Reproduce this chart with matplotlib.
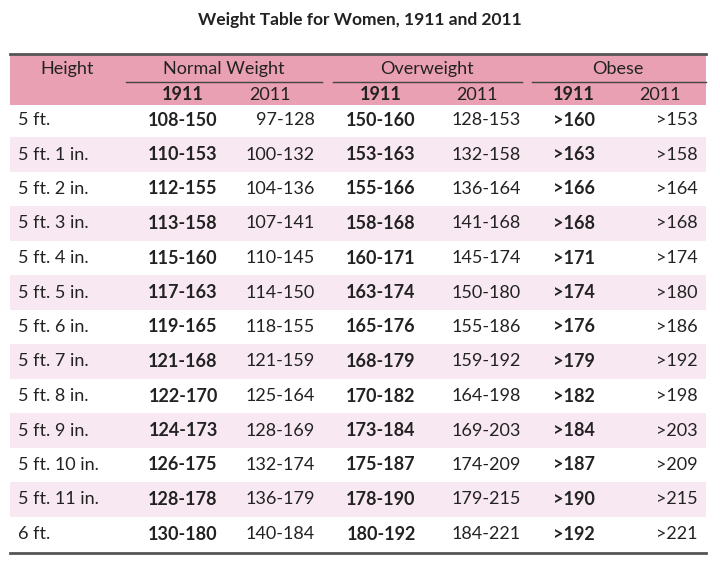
import matplotlib.pyplot as plt
from matplotlib.patches import Rectangle

heights = ['5 ft.', '5 ft. 1 in.', '5 ft. 2 in.', '5 ft. 3 in.', '5 ft. 4 in.', '5 ft. 5 in.',
           '5 ft. 6 in.', '5 ft. 7 in.', '5 ft. 8 in.', '5 ft. 9 in.', '5 ft. 10 in.',
           '5 ft. 11 in.', '6 ft.']
normal_1911 = ['108-150', '110-153', '112-155', '113-158', '115-160', '117-163', '119-165',
               '121-168', '122-170', '124-173', '126-175', '128-178', '130-180']
normal_2011 = ['97-128', '100-132', '104-136', '107-141', '110-145', '114-150', '118-155',
               '121-159', '125-164', '128-169', '132-174', '136-179', '140-184']
over_1911 = ['150-160', '153-163', '155-166', '158-168', '160-171', '163-174', '165-176',
             '168-179', '170-182', '173-184', '175-187', '178-190', '180-192']
over_2011 = ['128-153', '132-158', '136-164', '141-168', '145-174', '150-180', '155-186',
             '159-192', '164-198', '169-203', '174-209', '179-215', '184-221']
obese_1911 = ['>160', '>163', '>166', '>168', '>171', '>174', '>176', '>179', '>182',
              '>184', '>187', '>190', '>192']
obese_2011 = ['>153', '>158', '>164', '>168', '>174', '>180', '>186', '>192', '>198',
              '>203', '>209', '>215', '>221']
groups = ['Normal Weight', 'Overweight', 'Obese']

plt.rcParams['font.family'] = ['Lato', 'DejaVu Sans']
fig = plt.figure(figsize=(7.2, 5.68), dpi=100)
ax = fig.add_axes([0, 0, 1, 1])
ax.set_xlim(0, 720)
ax.set_ylim(568, 0)
ax.axis('off')

fs = 13
txt = '#222222'
ax.text(360, 20, 'Weight Table for Women, 1911 and 2011', ha='center', va='center',
        fontsize=12.5, fontweight='bold', color=txt)

# header band
ax.add_patch(Rectangle((10, 54), 696, 51, color='#e9a0b2', lw=0))
ax.plot([10, 706], [54, 54], color='#555555', lw=2)
ax.plot([10, 706], [553, 553], color='#555555', lw=2)
ax.text(67, 69, 'Height', ha='center', va='center', fontsize=fs, color=txt)
group_c = [224, 427, 618]
group_span = [(126, 322), (333, 522), (532, 706)]
for g, c, (a, b) in zip(groups, group_c, group_span):
    ax.text(c, 69, g, ha='center', va='center', fontsize=fs, color=txt)
    ax.plot([a, b], [82, 82], color='#444444', lw=1)
for c1, c2 in [(183, 270), (381, 477), (574, 660)]:
    ax.text(c1, 95, '1911', ha='center', va='center', fontsize=fs, fontweight='bold', color=txt)
    ax.text(c2, 95, '2011', ha='center', va='center', fontsize=fs, color=txt)

pitch = 34.5
for i, h in enumerate(heights):
    y = 120 + i * pitch
    if i % 2 == 1:
        ax.add_patch(Rectangle((10, y - pitch / 2), 696, pitch, color='#f7e8f1', lw=0))
    ax.text(18, y, h, ha='left', va='center', fontsize=fs, color=txt)
    ax.text(183, y, normal_1911[i], ha='center', va='center', fontsize=fs, fontweight='bold', color=txt)
    ax.text(315, y, normal_2011[i], ha='right', va='center', fontsize=fs, color=txt)
    ax.text(381, y, over_1911[i], ha='center', va='center', fontsize=fs, fontweight='bold', color=txt)
    ax.text(521, y, over_2011[i], ha='right', va='center', fontsize=fs, color=txt)
    ax.text(574, y, obese_1911[i], ha='center', va='center', fontsize=fs, fontweight='bold', color=txt)
    ax.text(698, y, obese_2011[i], ha='right', va='center', fontsize=fs, color=txt)

fig.savefig('out.png', dpi=100)
